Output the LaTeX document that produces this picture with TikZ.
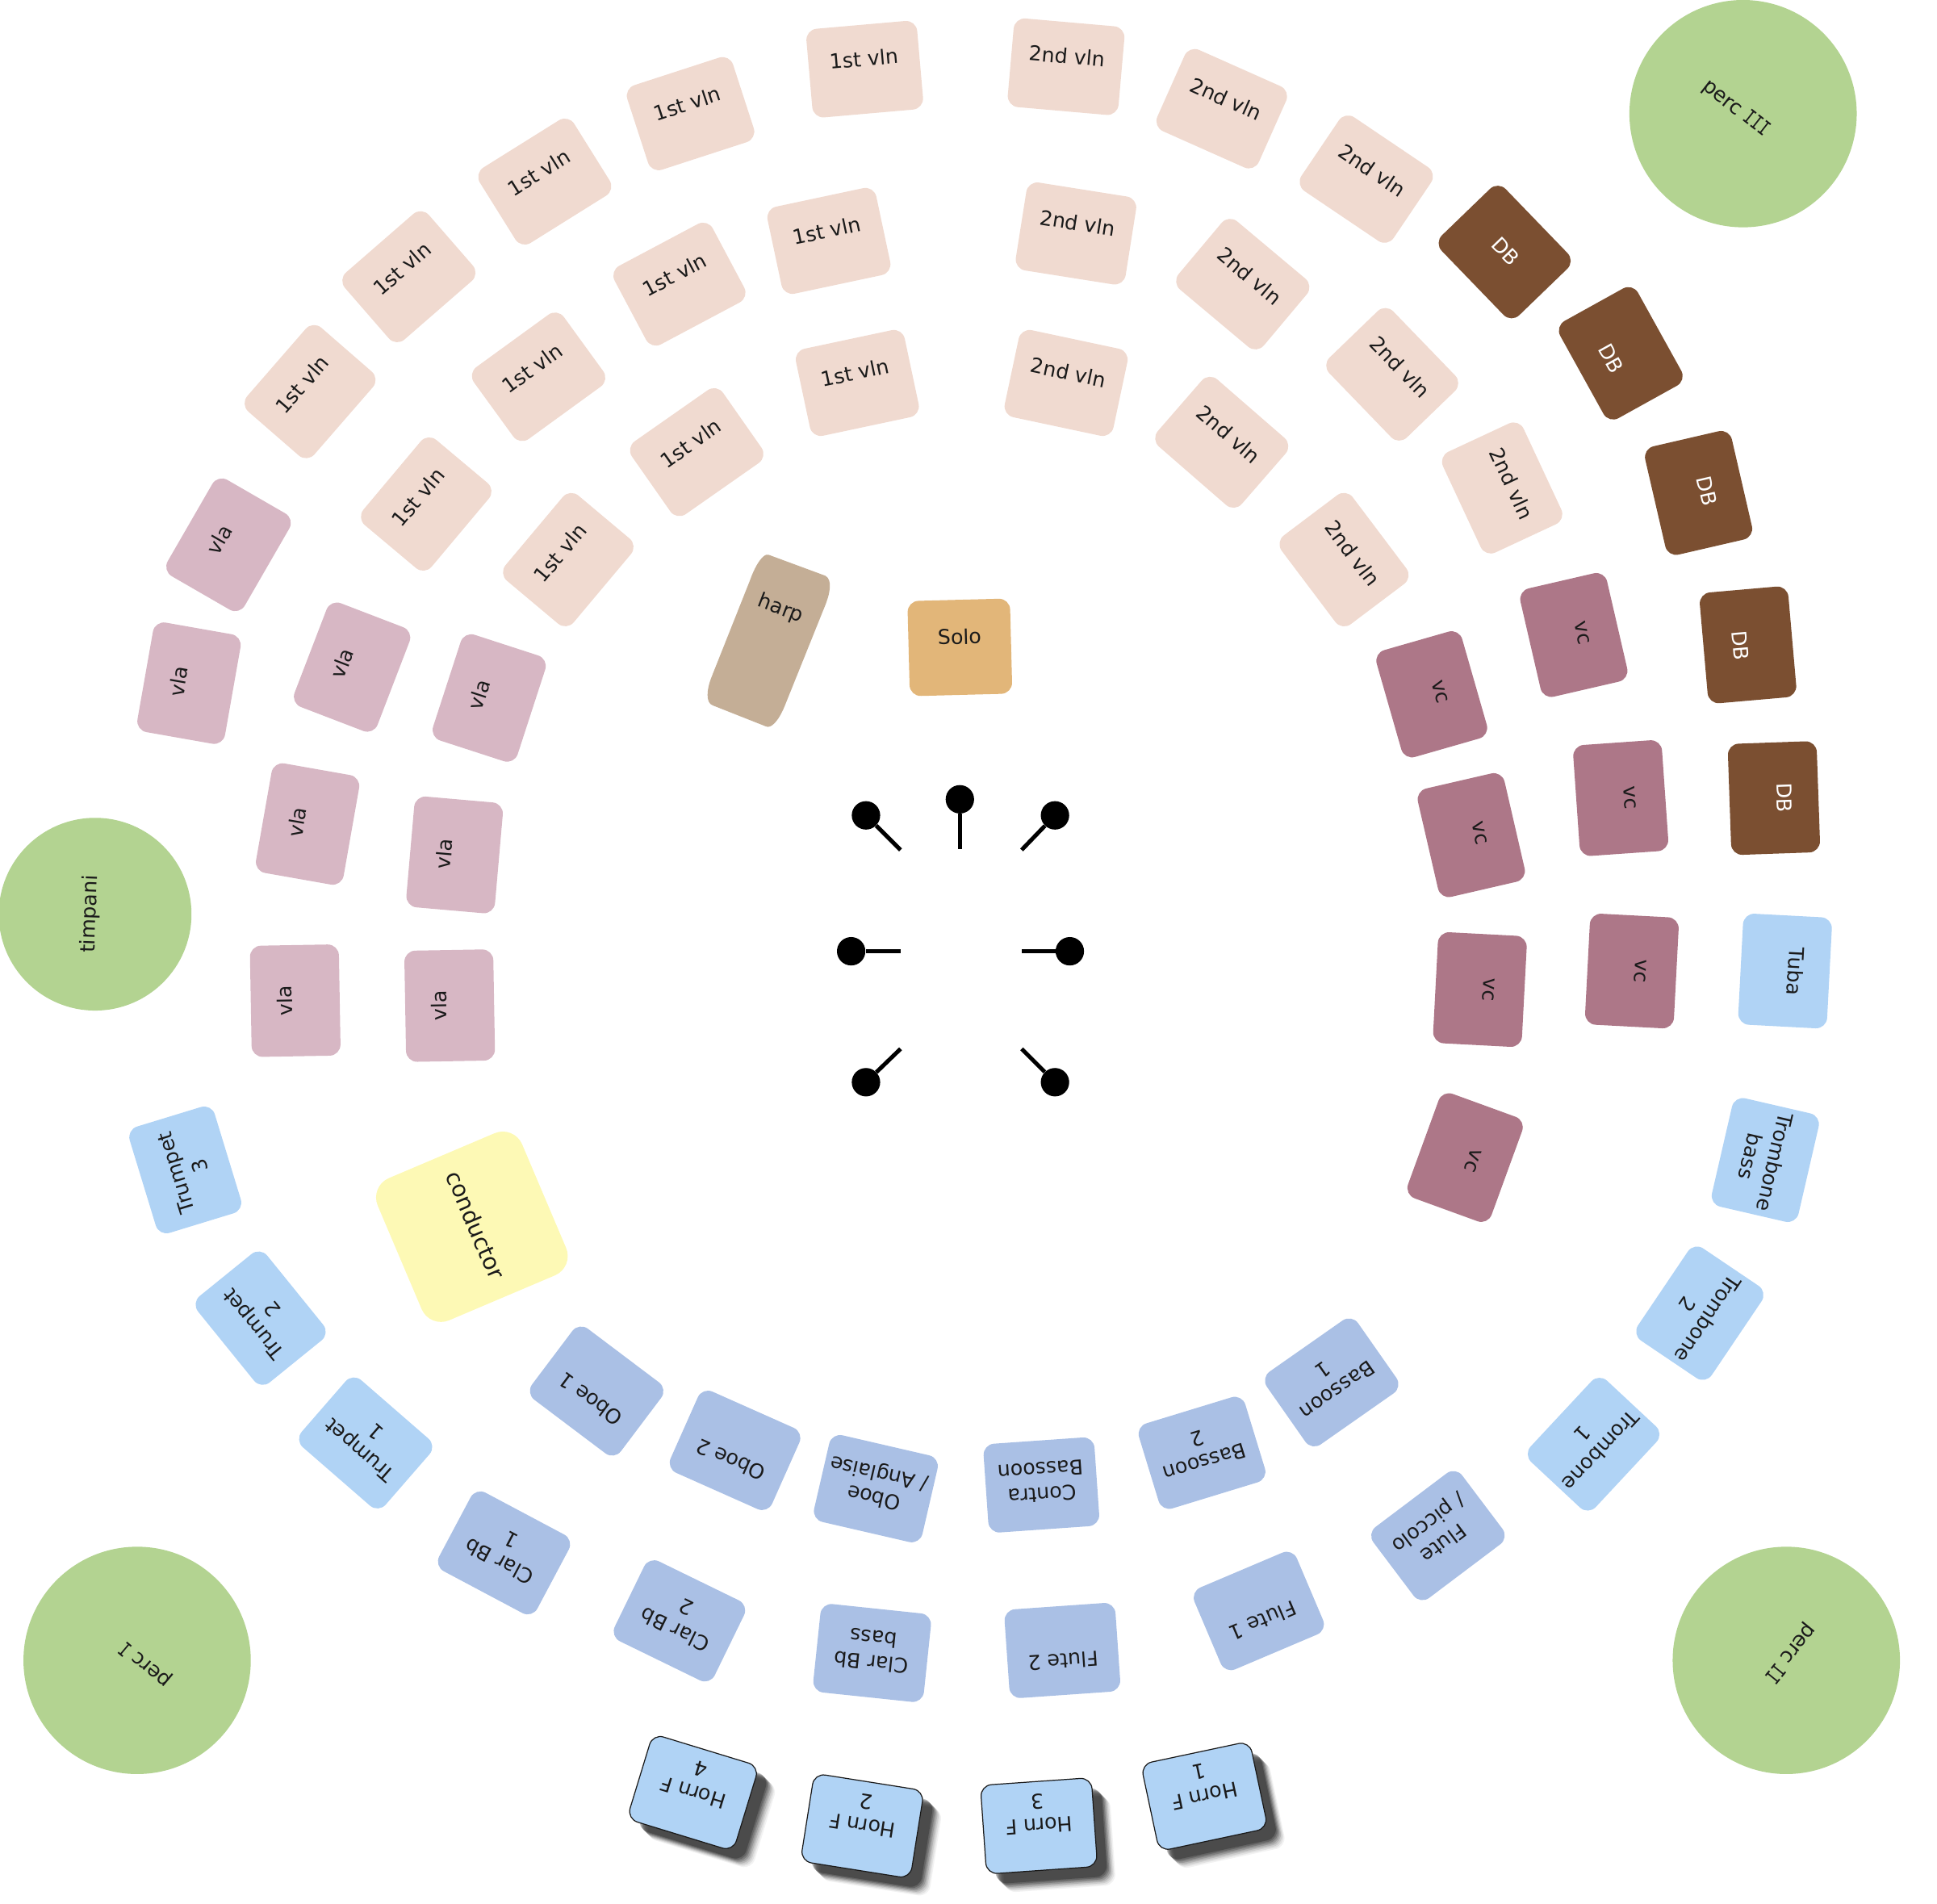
\documentclass[tikz,border=0pt]{standalone}
\usepackage{fontspec}
\setmainfont{DejaVu Sans}
\newfontfamily\romanfont[FakeStretch=0.75]{DejaVu Sans Mono}
\usetikzlibrary{shadows}

\definecolor{vlncol}{HTML}{F0DAD0}
\definecolor{vlacol}{HTML}{D7B7C4}
\definecolor{vccol}{HTML}{AD7788}
\definecolor{dbcol}{HTML}{7B4F31}
\definecolor{brasscol}{HTML}{B0D3F5}
\definecolor{windcol}{HTML}{AAC0E5}
\definecolor{perccol}{HTML}{B3D391}
\definecolor{condcol}{HTML}{FDF9B5}
\definecolor{harpcol}{HTML}{C4AE96}
\definecolor{solocol}{HTML}{E2B679}
\definecolor{inkcol}{HTML}{1A1A1A}

\tikzset{
 desk/.style={rectangle, rounded corners=9pt, minimum width=90pt, minimum height=72pt, inner sep=0pt, align=center, text=inkcol, font=\fontsize{16.5}{20}\selectfont},
 oneline/.style={text height=12pt, text depth=17pt},
 twoline/.style={text height=40pt, text depth=4pt},
 vln/.style={desk, oneline, fill=vlncol},
 vla/.style={desk, oneline, fill=vlacol},
 vc/.style={desk, oneline, fill=vccol},
 db/.style={desk, oneline, fill=dbcol, text=white},
 brass/.style={desk, twoline, fill=brasscol},
 wind/.style={desk, twoline, fill=windcol},
 horn/.style={desk, fill=brasscol, draw=inkcol, line width=0.8pt, text height=56pt, text depth=4pt,
  general shadow={shadow xshift=15pt, shadow yshift=-15pt, fill=black, opacity=.05},
  general shadow={shadow xshift=14pt, shadow yshift=-14pt, fill=black, opacity=.07},
  general shadow={shadow xshift=13pt, shadow yshift=-13pt, fill=black, opacity=.09},
  general shadow={shadow xshift=12pt, shadow yshift=-12pt, fill=black, opacity=.12},
  general shadow={shadow xshift=11pt, shadow yshift=-11pt, fill=black, opacity=.15},
  general shadow={shadow xshift=10pt, shadow yshift=-10pt, fill=black, opacity=.18},
  general shadow={shadow xshift=9pt, shadow yshift=-9pt, fill=black, opacity=.2},
  general shadow={shadow xshift=8pt, shadow yshift=-8pt, fill=black, opacity=.25}},
 perc/.style={circle, fill=perccol, inner sep=0pt},
 perctext/.style={inner sep=0pt, text=inkcol, font=\fontsize{16.5}{20}\selectfont},
 ball/.style={circle, fill=black, inner sep=0pt, minimum size=23pt},
 stick/.style={line width=3.3pt},
}

\begin{document}
\begin{tikzpicture}[x=1pt,y=-1pt]
 \useasboundingbox (0,0) rectangle (1568,1541);

 % first violins
 \node [vln, rotate=5] (vlnA1) at (700,56) {1st vln};
 \node [vln, rotate=18] (vlnA2) at (559,92) {1st vln};
 \node [vln, rotate=32] (vlnA3) at (441,147) {1st vln};
 \node [vln, rotate=41] (vlnA4) at (331,224) {1st vln};
 \node [vln, rotate=49] (vlnA5) at (251,317) {1st vln};
 \node [vln, rotate=12] (vlnA6) at (671,195) {1st vln};
 \node [vln, rotate=28] (vlnA7) at (550,230) {1st vln};
 \node [vln, rotate=36] (vlnA8) at (436,305) {1st vln};
 \node [vln, rotate=50] (vlnA9) at (345,408) {1st vln};
 \node [vln, rotate=12] (vlnA10) at (694,310) {1st vln};
 \node [vln, rotate=35] (vlnA11) at (564,366) {1st vln};
 \node [vln, rotate=50] (vlnA12) at (460,453) {1st vln};

 % second violins
 \node [vln, rotate=-5] (vlnB1) at (863,54) {2nd vln};
 \node [vln, rotate=-24] (vlnB2) at (989,88) {2nd vln};
 \node [vln, rotate=-34] (vlnB3) at (1106,145) {2nd vln};
 \node [vln, rotate=-9] (vlnB4) at (871,189) {2nd vln};
 \node [vln, rotate=-40] (vlnB5) at (1006,230) {2nd vln};
 \node [vln, rotate=-46] (vlnB6) at (1127,303) {2nd vln};
 \node [vln, rotate=-65] (vlnB7) at (1216,395) {2nd vln};
 \node [vln, rotate=-12] (vlnB8) at (863,310) {2nd vln};
 \node [vln, rotate=-41] (vlnB9) at (989,358) {2nd vln};
 \node [vln, rotate=-53] (vlnB10) at (1088,453) {2nd vln};

 % violas
 \node [vla, rotate=60] (vla1) at (185,441) {vla};
 \node [vla, rotate=80] (vla2) at (153,553) {vla};
 \node [vla, rotate=69] (vla3) at (285,540) {vla};
 \node [vla, rotate=72] (vla4) at (396,565) {vla};
 \node [vla, rotate=80] (vla5) at (249,667) {vla};
 \node [vla, rotate=85] (vla6) at (368,692) {vla};
 \node [vla, rotate=91] (vla7) at (239,810) {vla};
 \node [vla, rotate=91] (vla8) at (364,814) {vla};

 % cellos
 \node [vc, rotate=-74] (vc1) at (1159,562) {vc};
 \node [vc, rotate=-77] (vc2) at (1274,514) {vc};
 \node [vc, rotate=-77] (vc3) at (1191,676) {vc};
 \node [vc, rotate=-86] (vc4) at (1312,646) {vc};
 \node [vc, rotate=-93] (vc5) at (1198,801) {vc};
 \node [vc, rotate=-93] (vc6) at (1321,786) {vc};
 \node [vc, rotate=-110] (vc7) at (1186,937) {vc};

 % basses
 \node [db, rotate=-46, text height=12pt, text depth=2pt] (db1) at (1218,204) {DB};
 \node [db, rotate=-61, text height=30pt, text depth=0pt] (db2) at (1312,286) {DB};
 \node [db, rotate=-77, text height=12pt, text depth=14pt] (db3) at (1375,399) {DB};
 \node [db, rotate=-85, text height=24pt, text depth=0pt] (db4) at (1415,522) {DB};
 \node [db, rotate=-88] (db5) at (1436,646) {DB};

 % brass
 \node [brass, oneline, rotate=-93] (tuba) at (1445,786) {Tuba};
 \node [brass, rotate=-103] (tbn3) at (1429,939) {Trombone\\bass};
 \node [brass, rotate=-124] (tbn2) at (1376,1063) {Trombone\\2};
 \node [brass, rotate=-133] (tbn1) at (1290,1169) {Trombone\\1};
 \node [brass, rotate=107] (tpt3) at (150,947) {Trumpet\\3};
 \node [brass, rotate=129] (tpt2) at (211,1067) {Trumpet\\2};
 \node [brass, rotate=139] (tpt1) at (296,1168) {Trumpet\\1};

 % winds
 \node [wind, rotate=-143] (picc) at (1164,1243) {Flute\\/ piccolo};
 \node [wind, oneline, rotate=203] (fl1) at (1019,1304) {Flute 1};
 \node [wind, oneline, rotate=184] (fl2) at (860,1336) {Flute 2};
 \node [wind, rotate=174] (bcl) at (706,1338) {Clar Bb\\bass};
 \node [wind, rotate=154] (cl2) at (550,1312) {Clar Bb\\2};
 \node [wind, rotate=152] (cl1) at (408,1257) {Clar Bb\\1};
 \node [wind, oneline, rotate=143] (ob1) at (483,1126) {Oboe 1};
 \node [wind, oneline, rotate=156] (ob2) at (595,1174) {Oboe 2};
 \node [wind, rotate=167] (eh) at (709,1205) {Oboe\\/ Anglaise};
 \node [wind, rotate=184] (cbn) at (843,1202) {Contra\\Bassoon};
 \node [wind, rotate=197] (bn2) at (973,1176) {Bassoon\\2};
 \node [wind, rotate=215] (bn1) at (1078,1119) {Bassoon\\1};

 % horns
 \node [horn, rotate=163] (hn4) at (561,1451) {Horn F\\4};
 \node [horn, rotate=171] (hn2) at (698,1478) {Horn F\\2};
 \node [horn, rotate=184] (hn3) at (841,1478) {Horn F\\3};
 \node [horn, rotate=192] (hn1) at (975,1454) {Horn F\\1};

 % percussion
 \node [perc, minimum size=184pt] (perc3) at (1411,92) {};
 \node [perc, minimum size=184pt] (perc1) at (111,1344) {};
 \node [perc, minimum size=184pt] (perc2) at (1446,1344) {};
 \node [perc, minimum size=156pt] (timp) at (77,740) {};
 \node [perctext, rotate=-38] (perc3t) at (1405,88) {perc {\romanfont III}};
 \node [perctext, rotate=140] (perc1t) at (118,1347) {perc {\romanfont I}};
 \node [perctext, rotate=231] (perc2t) at (1449,1338) {perc {\romanfont II}};
 \node [perctext, rotate=88] (timpt) at (73,740) {timpani};

 % conductor, solo, harp
 \node [desk, rotate=-67, fill=condcol, rounded corners=17pt, minimum width=125pt, minimum height=127pt, text height=13pt, text depth=6pt, font=\fontsize{18.5}{22}\selectfont] (cond) at (382,993) {conductor};
 \node [desk, oneline, rotate=1.5, fill=solocol, rounded corners=9pt, minimum width=83pt, minimum height=77pt] (solo) at (777,524) {Solo};
 \fill [harpcol] (622,449) -- (668,466) .. controls (674,469) and (672,480) .. (668,490) -- (635,572) .. controls (630,584) and (624,590) .. (620,588) -- (577,571) .. controls (571,569) and (572,558) .. (576,548) -- (607,470) .. controls (612,456) and (618,448) .. (622,449) -- cycle;
 \node [perctext, rotate=-21] (harp) at (632,493) {harp};

 % baton
 \node [ball] (b1) at (701,660) {};
 \node [ball] (b2) at (777,647) {};
 \node [ball] (b3) at (854,660) {};
 \node [ball] (b4) at (689,770) {};
 \node [ball] (b5) at (866,770) {};
 \node [ball] (b6) at (701,876) {};
 \node [ball] (b7) at (854,876) {};
 \coordinate (e1) at (729,688);
 \coordinate (e2) at (777,687);
 \coordinate (e3) at (827,688);
 \coordinate (e4) at (729,770);
 \coordinate (e5) at (827,770);
 \coordinate (e6) at (729,849);
 \coordinate (e7) at (827,849);
 \draw [stick] (b1) -- (e1);
 \draw [stick] (b2) -- (e2);
 \draw [stick] (b3) -- (e3);
 \draw [stick] (b4) -- (e4);
 \draw [stick] (b5) -- (e5);
 \draw [stick] (b6) -- (e6);
 \draw [stick] (b7) -- (e7);
\end{tikzpicture}
\end{document}
